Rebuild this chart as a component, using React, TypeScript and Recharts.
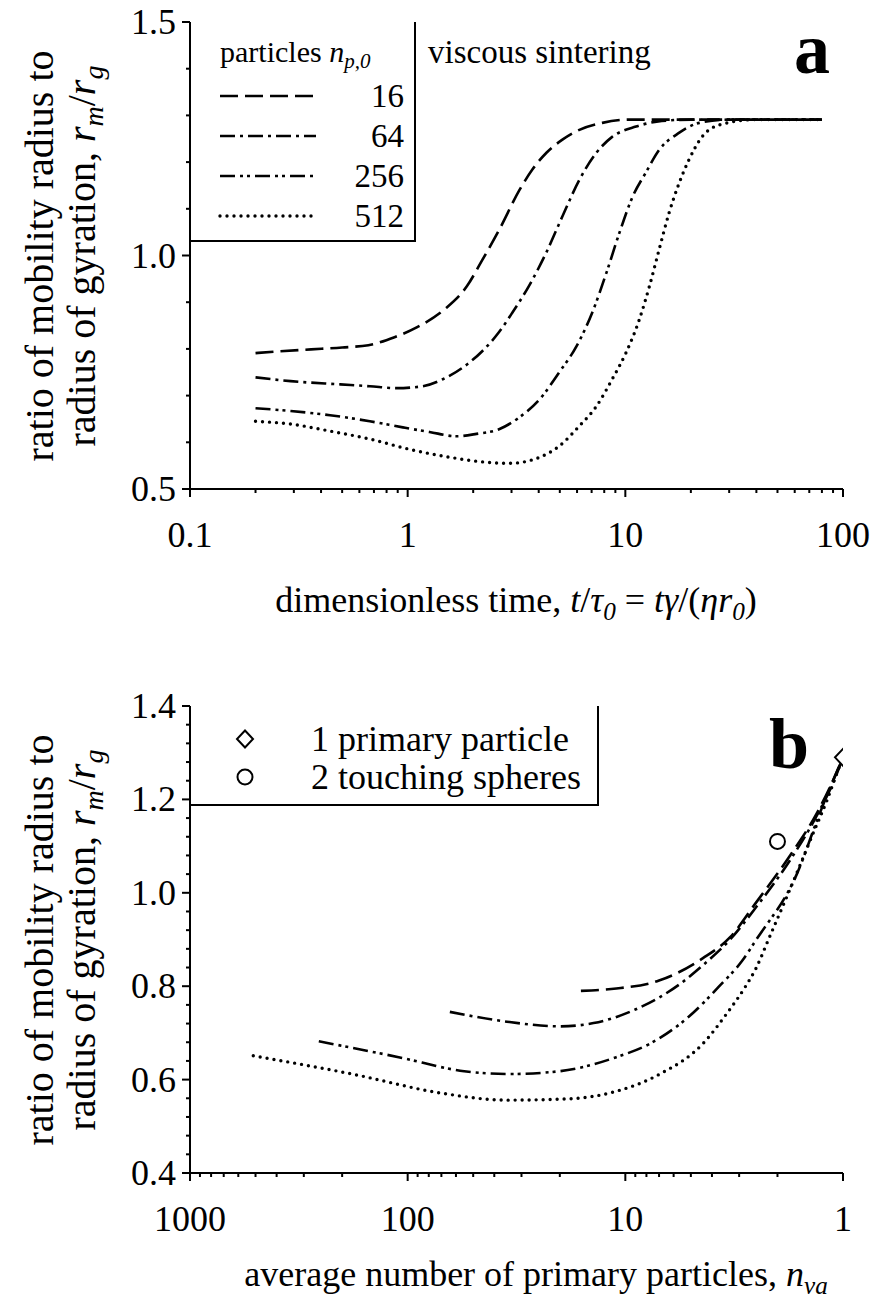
import React from "react";
import { ComposedChart, Line, Scatter, XAxis, YAxis } from "recharts";

const FONT = "'Liberation Serif', Tinos, 'Times New Roman', Times, 'Nimbus Roman', 'DejaVu Serif', serif";

// ---- panel a: rm/rg against dimensionless time ----
const T_16 = [0.2, 0.26, 0.36, 0.5, 0.66, 0.87, 1.1, 1.48, 1.87, 2.2, 2.64, 3.27, 3.74, 4.34, 5.14, 6.15, 7.84, 10.4, 80];
const R_16 = [0.791, 0.795, 0.799, 0.803, 0.808, 0.825, 0.846, 0.885, 0.934, 0.99, 1.056, 1.141, 1.184, 1.22, 1.248, 1.269, 1.284, 1.291, 1.291];

const T_64 = [0.2, 0.29, 0.49, 0.67, 0.89, 1.17, 1.45, 1.79, 2.2, 2.63, 3.03, 3.6, 4.33, 5.13, 6.15, 7.36, 8.7, 11.2, 14.7, 20, 80];
const R_64 = [0.739, 0.731, 0.724, 0.72, 0.716, 0.72, 0.735, 0.76, 0.795, 0.836, 0.878, 0.934, 1.006, 1.083, 1.162, 1.22, 1.254, 1.276, 1.288, 1.291, 1.291];

const T_256 = [0.2, 0.29, 0.44, 0.67, 0.95, 1.26, 1.68, 2.07, 2.63, 3.27, 4.04, 4.97, 5.97, 7.05, 8.2, 9.4, 10.8, 12.4, 14.3, 17.7, 21.9, 30, 80];
const R_256 = [0.673, 0.667, 0.658, 0.645, 0.632, 0.622, 0.613, 0.618, 0.628, 0.654, 0.692, 0.75, 0.806, 0.878, 0.964, 1.049, 1.126, 1.177, 1.226, 1.263, 1.284, 1.291, 1.291];

const T_512 = [0.2, 0.29, 0.44, 0.67, 1.02, 1.56, 2.21, 2.94, 4.04, 4.97, 6.15, 7.36, 8.7, 10.1, 11.6, 12.9, 14.3, 15.9, 17.7, 19.6, 22.5, 27.2, 40, 80];
const R_512 = [0.645, 0.639, 0.624, 0.607, 0.585, 0.568, 0.558, 0.555, 0.568, 0.592, 0.635, 0.677, 0.735, 0.793, 0.863, 0.934, 1.013, 1.092, 1.156, 1.205, 1.254, 1.28, 1.291, 1.291];

// ---- panel b: rm/rg against average number of primary particles ----
const N_16 = [16, 11, 7, 4.4, 3.3, 2.5, 1.75, 1.32, 1.1, 1];
const B_16 = [0.79, 0.795, 0.812, 0.86, 0.905, 0.98, 1.08, 1.17, 1.245, 1.29];

const N_64 = [64, 35, 20, 14, 9, 5.6, 4.4, 3.3, 2.5, 1.75, 1.32, 1.1, 1];
const B_64 = [0.745, 0.724, 0.714, 0.721, 0.75, 0.805, 0.845, 0.9, 0.97, 1.07, 1.165, 1.24, 1.29];

const N_256 = [256, 110, 55, 34, 20, 11, 7.7, 5.1, 3.7, 2.9, 2.5, 1.63, 1.28, 1];
const B_256 = [0.682, 0.648, 0.618, 0.612, 0.618, 0.648, 0.677, 0.735, 0.8, 0.855, 0.9, 1.04, 1.17, 1.29];

const N_512 = [512, 176, 70, 35, 18, 11, 7, 4.4, 3.4, 2.8, 2.5, 2.2, 1.7, 1.37, 1.18, 1.065, 1];
const B_512 = [0.651, 0.611, 0.571, 0.556, 0.559, 0.575, 0.611, 0.677, 0.743, 0.8, 0.84, 0.9, 1.022, 1.128, 1.2, 1.257, 1.29];

const PRIMARY = [{ x: 1, y: 1.29 }];
const TWO_SPHERES = [{ x: 2, y: 1.11 }];

// ---- ticks ----
const XA_TICKS = [0.1, 0.2, 0.3, 0.4, 0.5, 0.6, 0.7, 0.8, 0.9, 1, 2, 3, 4, 5, 6, 7, 8, 9, 10, 20, 30, 40, 50, 60, 70, 80, 90, 100];
const XA_MAJOR = [0.1, 1, 10, 100];
const XA_LABELS = ["0.1", "1", "10", "100"];
const YA_TICKS = [0.5, 0.6, 0.7, 0.8, 0.9, 1.0, 1.1, 1.2, 1.3, 1.4, 1.5];
const YA_MAJOR = [0.5, 1.0, 1.5];
const YA_LABELS = ["0.5", "1.0", "1.5"];

const XB_TICKS = [1, 2, 3, 4, 5, 6, 7, 8, 9, 10, 20, 30, 40, 50, 60, 70, 80, 90, 100, 200, 300, 400, 500, 600, 700, 800, 900, 1000];
const XB_MAJOR = [1, 10, 100, 1000];
const XB_LABELS = ["1", "10", "100", "1000"];
const YB_TICKS = [0.4, 0.44, 0.48, 0.52, 0.56, 0.6, 0.64, 0.68, 0.72, 0.76, 0.8, 0.84, 0.88, 0.92, 0.96, 1.0, 1.04, 1.08, 1.12, 1.16, 1.2, 1.24, 1.28, 1.32, 1.36, 1.4];
const YB_MAJOR = [0.4, 0.6, 0.8, 1.0, 1.2, 1.4];
const YB_LABELS = ["0.4", "0.6", "0.8", "1.0", "1.2", "1.4"];

const zip = (xs: number[], ys: number[]) => xs.map((x, i) => ({ x, y: ys[i] }));

const SERIES = [
  { name: "16", dash: "18 7", cap: "butt", width: 2.6 },
  { name: "64", dash: "15 5 3 5", cap: "butt", width: 2.6 },
  { name: "256", dash: "15 5 3 4 3 5", cap: "butt", width: 2.6 },
  { name: "512", dash: "0 7", cap: "round", width: 3.4 },
];

const TICK_FS = 36;
const AXIS = { stroke: "#000", strokeWidth: 2 };

const findMajor = (majors: number[], v: number) => majors.findIndex(m => Math.abs(m - v) < m * 1e-6);

function xTick(majors: number[], labels: string[]) {
  return (p: any) => {
    const idx = findMajor(majors, p.payload.value);
    return (
      <g>
        <line x1={p.x} x2={p.x} y1={p.y} y2={p.y + (idx >= 0 ? 8 : 4)} stroke="#000" strokeWidth={2} />
        {idx >= 0 && (
          <text x={p.x} y={p.y + 46} textAnchor="middle" dominantBaseline="central" fontSize={TICK_FS} fontFamily={FONT} fill="#000">
            {labels[idx]}
          </text>
        )}
      </g>
    );
  };
}

function yTick(majors: number[], labels: string[]) {
  return (p: any) => {
    const idx = findMajor(majors, p.payload.value);
    return (
      <g>
        <line x1={p.x - (idx >= 0 ? 8 : 4)} x2={p.x} y1={p.y} y2={p.y} stroke="#000" strokeWidth={2} />
        {idx >= 0 && (
          <text x={p.x - 14} y={p.y} textAnchor="end" dominantBaseline="central" fontSize={TICK_FS} fontFamily={FONT} fill="#000">
            {labels[idx]}
          </text>
        )}
      </g>
    );
  };
}

const Diamond = (p: any) => (
  <polygon
    points={`${p.cx},${p.cy - 8.5} ${p.cx + 8},${p.cy} ${p.cx},${p.cy + 8.5} ${p.cx - 8},${p.cy}`}
    fill="#fff" stroke="#000" strokeWidth={2}
  />
);
const Ring = (p: any) => <circle cx={p.cx} cy={p.cy} r={7.5} fill="#fff" stroke="#000" strokeWidth={2} />;

function Sample({ s }: { s: (typeof SERIES)[number] }) {
  return (
    <svg width={100} height={10} style={{ display: "block" }}>
      <line x1={2} x2={98} y1={5} y2={5} stroke="#000" strokeWidth={s.width} strokeDasharray={s.dash} strokeLinecap={s.cap as any} />
    </svg>
  );
}

const SUB: React.CSSProperties = { fontSize: "0.7em", verticalAlign: "-0.3em", lineHeight: 0 };

function YTitle({ cy }: { cy: number }) {
  return (
    <div style={{
      position: "absolute", left: 61, top: cy, transform: "translate(-50%, -50%) rotate(-90deg)",
      whiteSpace: "nowrap", textAlign: "center", fontSize: 40, lineHeight: "42px",
    }}>
      ratio of mobility radius to<br />
      radius of gyration, <i>r</i><sub style={SUB}><i>m</i></sub>/<i>r</i><sub style={SUB}><i>g</i></sub>
    </div>
  );
}

const abs = (left: number, top: number, extra: React.CSSProperties = {}): React.CSSProperties => ({
  position: "absolute", left, top, whiteSpace: "nowrap", lineHeight: 1, ...extra,
});

export default function App() {
  const aSeries = [zip(T_16, R_16), zip(T_64, R_64), zip(T_256, R_256), zip(T_512, R_512)];
  const bSeries = [zip(N_16, B_16), zip(N_64, B_64), zip(N_256, B_256), zip(N_512, B_512)];

  return (
    <div style={{ position: "absolute", left: 0, top: 0, width: 870, height: 1302, background: "#fff", fontFamily: FONT, color: "#000", overflow: "hidden" }}>
      {/* panel a */}
      <div style={{ position: "absolute", left: 0, top: 0 }}>
        <ComposedChart width={870} height={684} margin={{ top: 22, right: 27, bottom: 0, left: 0 }}>
          <XAxis dataKey="x" type="number" scale="log" domain={[0.1, 100]} allowDataOverflow ticks={XA_TICKS}
            interval={0} height={195} tickSize={0} tickMargin={0} tickLine={false} axisLine={AXIS} tick={xTick(XA_MAJOR, XA_LABELS)} />
          <YAxis type="number" domain={[0.5, 1.5]} allowDataOverflow ticks={YA_TICKS} interval={0} width={190}
            tickSize={0} tickMargin={0} tickLine={false} axisLine={AXIS} tick={yTick(YA_MAJOR, YA_LABELS)} />
          <XAxis xAxisId="top" orientation="top" type="number" domain={[0, 1]} height={0} tick={false} tickLine={false} axisLine={AXIS} />
          <YAxis yAxisId="right" orientation="right" type="number" domain={[0, 1]} width={0} tick={false} tickLine={false} axisLine={AXIS} />
          {SERIES.map((s, i) => (
            <Line key={s.name} data={aSeries[i]} dataKey="y" type="monotone" stroke="#000" strokeWidth={s.width}
              strokeDasharray={s.dash} strokeLinecap={s.cap as any} dot={false} isAnimationActive={false} />
          ))}
        </ComposedChart>
      </div>

      {/* legend a */}
      <div style={{ position: "absolute", left: 190, top: 22, width: 226, height: 220, borderRight: "2px solid #000", borderBottom: "2px solid #000", boxSizing: "border-box" }} />
      <div style={abs(220, 37, { fontSize: 30 })}>
        particles <i>n</i><sub style={SUB}><i>p,0</i></sub>
      </div>
      {SERIES.map((s, i) => (
        <React.Fragment key={s.name}>
          <div style={abs(218, 91 + i * 40)}><Sample s={s} /></div>
          <div style={abs(340, 80 + i * 40, { width: 64, textAlign: "right", fontSize: 33 })}>{s.name}</div>
        </React.Fragment>
      ))}
      <div style={abs(428, 36, { fontSize: 33 })}>viscous sintering</div>

      <svg style={{ position: "absolute", left: 0, top: 0 }} width={870} height={1302}>
        <text x={830} y={73} textAnchor="end" fontSize={72} fontWeight="bold" fontFamily={FONT}>a</text>
        <text x={809} y={768} textAnchor="end" fontSize={72} fontWeight="bold" fontFamily={FONT}>b</text>
      </svg>

      <YTitle cy={256} />
      <div style={abs(516, 600, { transform: "translate(-50%, -50%)", fontSize: 36 })}>
        dimensionless time, <i>t</i>/<i>τ</i><sub style={SUB}><i>0</i></sub> = <i>tγ</i>/(<i>ηr</i><sub style={SUB}><i>0</i></sub>)
      </div>

      {/* panel b */}
      <div style={{ position: "absolute", left: 0, top: 684 }}>
        <ComposedChart width={870} height={618} margin={{ top: 22, right: 27, bottom: 0, left: 0 }}>
          <XAxis dataKey="x" type="number" scale="log" domain={[1, 1000]} reversed allowDataOverflow ticks={XB_TICKS}
            interval={0} height={129} tickSize={0} tickMargin={0} tickLine={false} axisLine={AXIS} tick={xTick(XB_MAJOR, XB_LABELS)} />
          <YAxis type="number" domain={[0.4, 1.4]} allowDataOverflow ticks={YB_TICKS} interval={0} width={190}
            tickSize={0} tickMargin={0} tickLine={false} axisLine={AXIS} tick={yTick(YB_MAJOR, YB_LABELS)} />
          <XAxis xAxisId="top" orientation="top" type="number" domain={[0, 1]} height={0} tick={false} tickLine={false} axisLine={AXIS} />
          <YAxis yAxisId="right" orientation="right" type="number" domain={[0, 1]} width={0} tick={false} tickLine={false} axisLine={AXIS} />
          {SERIES.map((s, i) => (
            <Line key={s.name} data={bSeries[i]} dataKey="y" type="monotone" stroke="#000" strokeWidth={s.width}
              strokeDasharray={s.dash} strokeLinecap={s.cap as any} dot={false} isAnimationActive={false} />
          ))}
          <Scatter data={TWO_SPHERES} dataKey="y" shape={Ring} isAnimationActive={false} />
          <Scatter data={PRIMARY} dataKey="y" shape={Diamond} isAnimationActive={false} />
        </ComposedChart>
      </div>

      {/* legend b */}
      <div style={{ position: "absolute", left: 190, top: 706, width: 409, height: 100, borderRight: "2px solid #000", borderBottom: "2px solid #000", boxSizing: "border-box" }} />
      <svg style={{ position: "absolute", left: 230, top: 724 }} width={30} height={70}>
        <Diamond cx={15} cy={15} />
        <Ring cx={15} cy={53} />
      </svg>
      <div style={abs(311, 721, { fontSize: 36 })}>1 primary particle</div>
      <div style={abs(311, 759, { fontSize: 36 })}>2 touching spheres</div>

      <YTitle cy={940} />
      <div style={abs(536, 1274, { transform: "translate(-50%, -50%)", fontSize: 36 })}>
        average number of primary particles, <i>n</i><sub style={SUB}><i>va</i></sub>
      </div>
    </div>
  );
}
